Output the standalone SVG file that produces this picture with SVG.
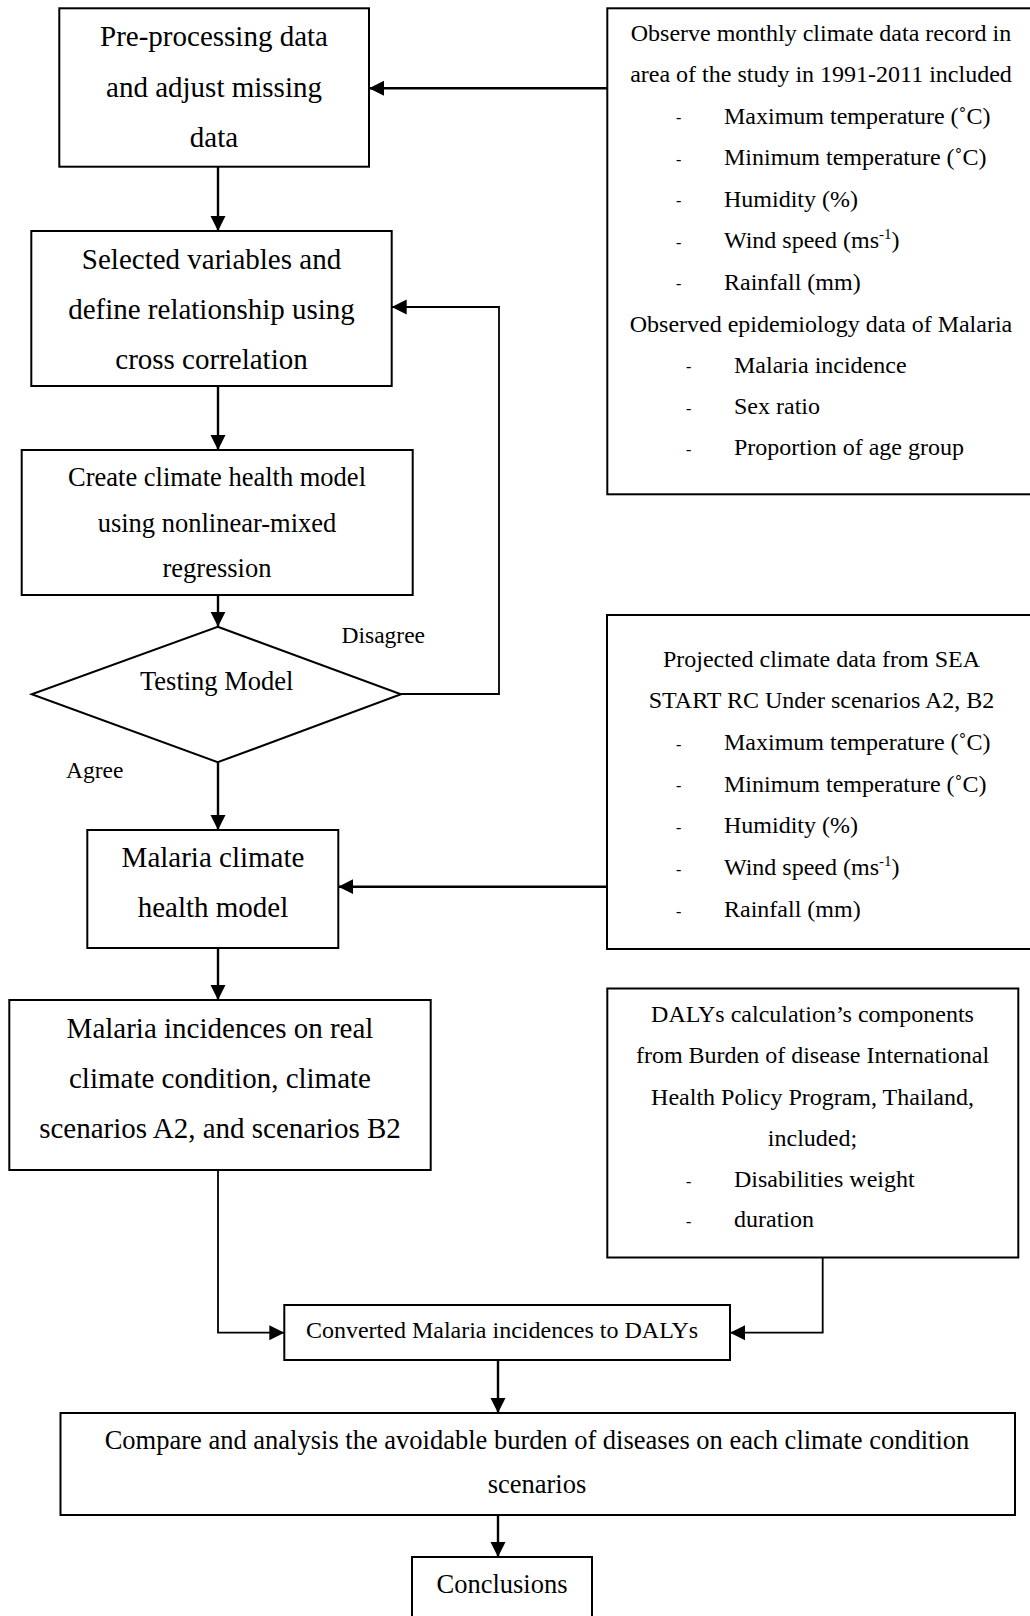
<svg xmlns="http://www.w3.org/2000/svg" width="1030" height="1616" viewBox="0 0 1030 1616">
<style>
text{font-family:"Liberation Serif","Times New Roman",serif;fill:#000}
.box{fill:#fff;stroke:#000;stroke-width:2}
.c{text-anchor:middle}
.f29{font-size:29px}
.f26{font-size:26.5px}
.f24{font-size:24px}
.f23{font-size:23.5px}
.ln{fill:none;stroke:#000;stroke-width:2.4}
.ln2{fill:none;stroke:#000;stroke-width:1.8}
.dash{font-size:16px}
</style>
<defs>
<marker id="ah" markerUnits="userSpaceOnUse" markerWidth="16" markerHeight="16" viewBox="0 0 16 16" refX="15" refY="8" orient="auto">
<path d="M0,0.5 L15,8 L0,15.5 Z" fill="#000"/>
</marker>
</defs>
<rect width="1030" height="1616" fill="#fff"/>

<g id="connectors">
<line class="ln" x1="218" y1="167" x2="218" y2="231" marker-end="url(#ah)"/>
<line class="ln" x1="218" y1="386" x2="218" y2="450" marker-end="url(#ah)"/>
<line class="ln" x1="218" y1="595" x2="218" y2="626.7" marker-end="url(#ah)"/>
<line class="ln" x1="218" y1="762.3" x2="218" y2="830" marker-end="url(#ah)"/>
<line class="ln" x1="218" y1="948" x2="218" y2="1000" marker-end="url(#ah)"/>
<line class="ln" x1="607" y1="88.3" x2="369" y2="88.3" marker-end="url(#ah)"/>
<line class="ln" x1="607" y1="886.7" x2="338.3" y2="886.7" marker-end="url(#ah)"/>
<polyline class="ln2" points="401,694 499,694 499,307 391.7,307" marker-end="url(#ah)"/>
<polyline class="ln2" points="218,1170 218,1332.7 284.3,1332.7" marker-end="url(#ah)"/>
<polyline class="ln2" points="822.7,1257.7 822.7,1332.7 730,1332.7" marker-end="url(#ah)"/>
<line class="ln" x1="498" y1="1360" x2="498" y2="1413" marker-end="url(#ah)"/>
<line class="ln" x1="498" y1="1515" x2="498" y2="1557" marker-end="url(#ah)"/>
<text class="f23" x="341.5" y="643">Disagree</text>
<text class="f23" x="66" y="778">Agree</text>
</g>

<g id="n-preprocess">
<rect class="box" x="59.3" y="8.3" width="309.7" height="158.4"/>
<text class="f29 c" x="214" y="46">Pre-processing data</text>
<text class="f29 c" x="214" y="96.5">and adjust missing</text>
<text class="f29 c" x="214" y="147">data</text>
</g>

<g id="n-selected">
<rect class="box" x="31.3" y="231" width="360.4" height="155"/>
<text class="f29 c" x="211.5" y="268.5">Selected variables and</text>
<text class="f29 c" x="211.5" y="318.5">define relationship using</text>
<text class="f29 c" x="211.5" y="369">cross correlation</text>
</g>

<g id="n-create">
<rect class="box" x="21.7" y="450" width="391" height="145"/>
<text class="f26 c" x="217" y="486">Create climate health model</text>
<text class="f26 c" x="217" y="531.5">using nonlinear-mixed</text>
<text class="f26 c" x="217" y="577">regression</text>
</g>

<g id="n-testing">
<polygon points="217.7,626.7 401,694.3 217.7,762.3 31.7,694.3" fill="#fff" stroke="#000" stroke-width="2"/>
<text class="f26 c" x="216.7" y="690">Testing Model</text>
</g>

<g id="n-malaria-model">
<rect class="box" x="87.3" y="830" width="251" height="118"/>
<text class="f29 c" x="213" y="867">Malaria climate</text>
<text class="f29 c" x="213" y="917">health model</text>
</g>

<g id="n-incidences">
<rect class="box" x="9.3" y="1000" width="421.4" height="170"/>
<text class="f29 c" x="220" y="1038">Malaria incidences on real</text>
<text class="f29 c" x="220" y="1088">climate condition, climate</text>
<text class="f29 c" x="220" y="1138">scenarios A2, and scenarios B2</text>
</g>

<g id="n-observed">
<rect class="box" x="607.3" y="8.3" width="440" height="486"/>
<text class="f24 c" x="821" y="40.7">Observe monthly climate data record in</text>
<text class="f24 c" x="821" y="81.7">area of the study in 1991-2011 included</text>
<text class="dash" x="676" y="123">-</text><text class="f24" x="724" y="123.5">Maximum temperature (˚C)</text>
<text class="dash" x="676" y="165">-</text><text class="f24" x="724" y="165">Minimum temperature (˚C)</text>
<text class="dash" x="676" y="206">-</text><text class="f24" x="724" y="206.5">Humidity (%)</text>
<text class="dash" x="676" y="248">-</text><text class="f24" x="724" y="248">Wind speed (ms<tspan font-size="15px" dy="-9">-1</tspan><tspan dy="9">)</tspan></text>
<text class="dash" x="676" y="289">-</text><text class="f24" x="724" y="289.5">Rainfall (mm)</text>
<text class="f24 c" x="821" y="331.5">Observed epidemiology data of Malaria</text>
<text class="dash" x="686" y="372">-</text><text class="f24" x="734" y="372.5">Malaria incidence</text>
<text class="dash" x="686" y="414">-</text><text class="f24" x="734" y="414">Sex ratio</text>
<text class="dash" x="686" y="455">-</text><text class="f24" x="734" y="455">Proportion of age group</text>
</g>

<g id="n-projected">
<rect class="box" x="607" y="615" width="440" height="334"/>
<text class="f24 c" x="821.5" y="666.5">Projected climate data from SEA</text>
<text class="f24 c" x="821.5" y="708">START RC Under scenarios A2, B2</text>
<text class="dash" x="676" y="749.5">-</text><text class="f24" x="724" y="750">Maximum temperature (˚C)</text>
<text class="dash" x="676" y="791">-</text><text class="f24" x="724" y="791.5">Minimum temperature (˚C)</text>
<text class="dash" x="676" y="832.5">-</text><text class="f24" x="724" y="833">Humidity (%)</text>
<text class="dash" x="676" y="874.5">-</text><text class="f24" x="724" y="875">Wind speed (ms<tspan font-size="15px" dy="-9">-1</tspan><tspan dy="9">)</tspan></text>
<text class="dash" x="676" y="916.5">-</text><text class="f24" x="724" y="917">Rainfall (mm)</text>
</g>

<g id="n-dalys-components">
<rect class="box" x="607.3" y="988.5" width="411" height="269"/>
<text class="f24 c" x="812.5" y="1021.5">DALYs calculation’s components</text>
<text class="f24 c" x="812.5" y="1063">from Burden of disease International</text>
<text class="f24 c" x="812.5" y="1104.5">Health Policy Program, Thailand,</text>
<text class="f24 c" x="812.5" y="1145.5">included;</text>
<text class="dash" x="686" y="1186.5">-</text><text class="f24" x="734" y="1187">Disabilities weight</text>
<text class="dash" x="686" y="1227">-</text><text class="f24" x="734" y="1227">duration</text>
</g>

<g id="n-converted">
<rect class="box" x="284.3" y="1305" width="445.7" height="55"/>
<text class="f24 c" x="502" y="1337.5">Converted Malaria incidences to DALYs</text>
</g>

<g id="n-compare">
<rect class="box" x="60.5" y="1413" width="954.5" height="102"/>
<text class="f26 c" x="537" y="1448.5">Compare and analysis the avoidable burden of diseases on each climate condition</text>
<text class="f26 c" x="537" y="1493">scenarios</text>
</g>

<g id="n-conclusions">
<rect class="box" x="412" y="1557" width="180" height="80"/>
<text class="f26 c" x="502" y="1593">Conclusions</text>
</g>
</svg>
